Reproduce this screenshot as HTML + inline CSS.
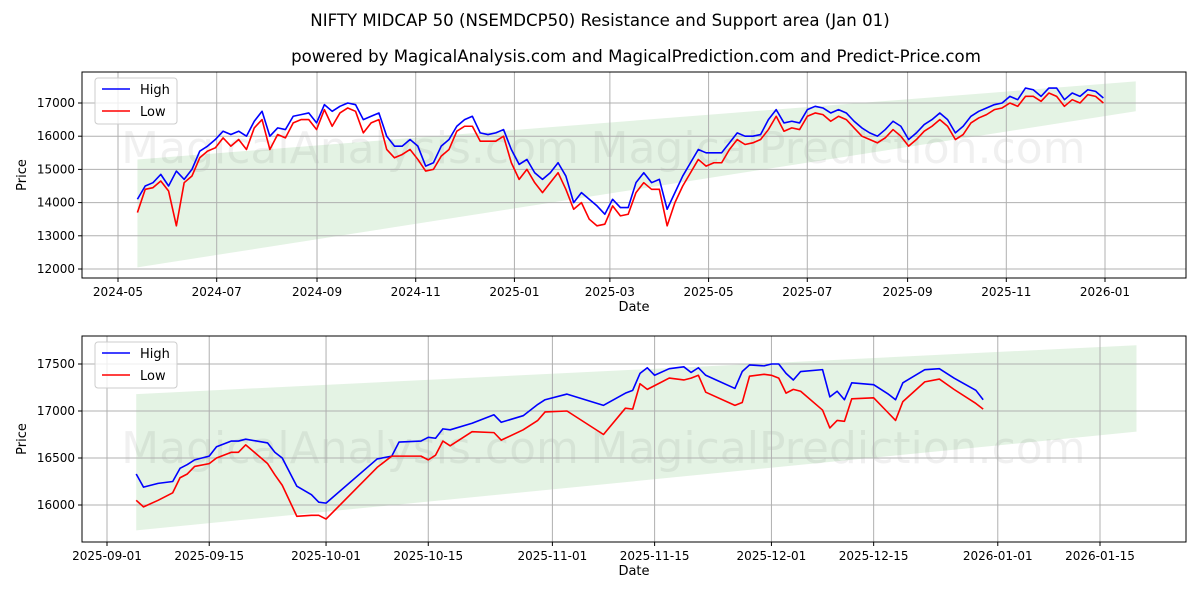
<!DOCTYPE html>
<html><head><meta charset="utf-8">
<style>
body{margin:0;background:#fff;font-family:"Liberation Sans","DejaVu Sans",sans-serif;}
svg text{font-family:"DejaVu Sans","Liberation Sans",sans-serif;}
</style></head>
<body>
<svg id="chart" width="1200" height="600" xmlns="http://www.w3.org/2000/svg">
<rect width="1200" height="600" fill="#fff"/>
<text x="600" y="26" text-anchor="middle" font-size="16.6">NIFTY MIDCAP 50 (NSEMDCP50) Resistance and Support area (Jan 01)</text>
<text x="636" y="62" text-anchor="middle" font-size="16.6">powered by MagicalAnalysis.com and MagicalPrediction.com and Predict-Price.com</text>
<g id="top"></g>
<g id="bot"></g>
</svg>
<script>
// ---- top chart data ----
const topStart = "2024-05-13";
const topEnd = "2025-12-31";
const topHigh = [14100,14500,14600,14850,14500,14950,14700,15000,15550,15700,
15900,16150,16050,16150,16000,16450,16750,16000,16250,16200,
16600,16650,16700,16400,16950,16750,16900,17000,16950,16500,
16600,16700,16000,15700,15700,15900,15700,15100,15200,15700,
15900,16300,16500,16600,16100,16050,16100,16200,15600,15150,
15300,14900,14700,14900,15200,14800,14000,14300,14100,13900,
13650,14100,13850,13850,14600,14900,14600,14700,13800,14300,
14800,15200,15600,15500,15500,15500,15800,16100,16000,16000,
16050,16500,16800,16400,16450,16400,16800,16900,16850,16700,
16800,16700,16450,16250,16100,16000,16200,16450,16300,15900,
16100,16350,16500,16700,16500,16100,16300,16600,16750,16850,
16950,17000,17200,17100,17450,17400,17200,17450,17450,17100,
17300,17200,17400,17350,17150];
const topLow = [13700,14400,14450,14650,14350,13300,14600,14800,15350,15550,
15650,15950,15700,15900,15600,16250,16500,15600,16050,15950,
16400,16500,16500,16200,16800,16300,16700,16850,16750,16100,
16400,16500,15600,15350,15450,15600,15300,14950,15000,15400,
15600,16150,16300,16300,15850,15850,15850,16000,15200,14700,
15000,14600,14300,14600,14900,14400,13800,14000,13500,13300,
13350,13900,13600,13650,14300,14600,14400,14400,13300,14000,
14500,14900,15300,15100,15200,15200,15600,15900,15750,15800,
15900,16200,16600,16150,16250,16200,16600,16700,16650,16450,
16600,16500,16250,16000,15900,15800,15950,16200,16000,15700,
15900,16150,16300,16500,16300,15900,16050,16400,16550,16650,
16800,16850,17000,16900,17200,17200,17050,17300,17200,16900,
17100,17000,17250,17200,17000];
const topBandDates = ["2024-05-13","2026-01-20"];
const topBandUpper = [15300,17650];
const topBandLower = [12050,16750];
const topYTicks = [12000,13000,14000,15000,16000,17000];
const topXTicks = ["2024-05","2024-07","2024-09","2024-11","2025-01","2025-03","2025-05","2025-07","2025-09","2025-11","2026-01"];

// ---- bottom chart data ----
const botDates = ["2025-09-05","2025-09-06","2025-09-08","2025-09-10","2025-09-11","2025-09-12","2025-09-13","2025-09-15","2025-09-16","2025-09-18",
"2025-09-19","2025-09-20","2025-09-23","2025-09-24","2025-09-25","2025-09-27","2025-09-29","2025-09-30","2025-10-01","2025-10-08",
"2025-10-10","2025-10-11","2025-10-14","2025-10-15","2025-10-16","2025-10-17","2025-10-18","2025-10-21","2025-10-24","2025-10-25",
"2025-10-28","2025-10-30","2025-10-31","2025-11-03","2025-11-08","2025-11-11","2025-11-12","2025-11-13","2025-11-14","2025-11-15",
"2025-11-17","2025-11-19","2025-11-20","2025-11-21","2025-11-22","2025-11-26","2025-11-27","2025-11-28","2025-11-30","2025-12-01",
"2025-12-02","2025-12-03","2025-12-04","2025-12-05","2025-12-08","2025-12-09","2025-12-10","2025-12-11","2025-12-12","2025-12-15",
"2025-12-17","2025-12-18","2025-12-19","2025-12-22","2025-12-24","2025-12-26","2025-12-29","2025-12-30"];
const botHigh = [16330,16190,16230,16250,16390,16430,16480,16520,16620,16680,
16680,16700,16660,16560,16500,16200,16110,16030,16020,16490,
16520,16670,16680,16720,16710,16810,16800,16870,16960,16880,
16950,17070,17120,17180,17060,17190,17220,17400,17460,17380,
17450,17470,17410,17460,17380,17240,17420,17490,17480,17500,
17500,17400,17330,17420,17440,17150,17210,17120,17300,17280,
17180,17120,17300,17440,17450,17350,17220,17120];
const botLow = [16050,15980,16050,16130,16290,16330,16410,16440,16500,16560,
16560,16640,16440,16320,16210,15880,15890,15890,15850,16400,
16520,16520,16520,16480,16530,16680,16630,16780,16770,16690,
16800,16900,16990,17000,16750,17030,17020,17290,17230,17270,
17350,17330,17350,17380,17200,17060,17090,17370,17390,17380,
17350,17190,17230,17210,17010,16820,16900,16890,17130,17140,
16980,16900,17100,17310,17340,17230,17080,17020];
const botBandDates = ["2025-09-05","2026-01-20"];
const botBandUpper = [17180,17700];
const botBandLower = [15730,16780];
const botYTicks = [16000,16500,17000,17500];
const botXTicks = ["2025-09-01","2025-09-15","2025-10-01","2025-10-15","2025-11-01","2025-11-15","2025-12-01","2025-12-15","2026-01-01","2026-01-15"];

const NS="http://www.w3.org/2000/svg";
function mk(parent,tag,attrs,txt){const e=document.createElementNS(NS,tag);for(const k in attrs)e.setAttribute(k,attrs[k]);if(txt!==undefined)e.textContent=txt;parent.appendChild(e);return e;}
function day(s){const p=s.split("-").map(Number);return Date.UTC(p[0],p[1]-1,p[2]||1)/86400000;}

function drawPanel(g,cfg){
  const L=82,R=1186,T=cfg.top,B=cfg.bottom;
  const xs=d=>cfg.x0px+(day(d)-day(cfg.x0))*cfg.pxPerDay;
  const xd=n=>cfg.x0px+(n-day(cfg.x0))*cfg.pxPerDay;
  const ys=v=>cfg.yRefPx+(cfg.yRef-v)*cfg.pxPerUnit;
  const band=mk(g,"polygon",{points:[
    [xs(cfg.bandDates[0]),ys(cfg.bandUpper[0])],[xs(cfg.bandDates[1]),ys(cfg.bandUpper[1])],
    [xs(cfg.bandDates[1]),ys(cfg.bandLower[1])],[xs(cfg.bandDates[0]),ys(cfg.bandLower[0])]].map(p=>p.join(",")).join(" "),
    fill:"#2ca02c","fill-opacity":"0.13"});
  
  
  const w1=mk(g,"text",{x:cfg.wm1x,y:cfg.wmy,"font-size":"44",fill:"#000","fill-opacity":"0.06","text-anchor":"middle"},"MagicalAnalysis.com");
  
  
  const w2=mk(g,"text",{x:cfg.wm2x,y:cfg.wmy,"font-size":"44",fill:"#000","fill-opacity":"0.06","text-anchor":"middle"},"MagicalPrediction.com");
  
  
  cfg.xTicks.forEach(t=>{const x=xs(t);
    const gl=mk(g,"line",{x1:x,x2:x,y1:T,y2:B,stroke:"#b0b0b0","stroke-width":"1"});
    
    
    mk(g,"line",{x1:x,x2:x,y1:B,y2:B+4,stroke:"#000"});
    const tl=mk(g,"text",{x:x,y:B+18,"font-size":"12","text-anchor":"middle"},t);
    
    
  });
  cfg.yTicks.forEach(v=>{const y=ys(v);
    const gl=mk(g,"line",{x1:L,x2:R,y1:y,y2:y,stroke:"#b0b0b0","stroke-width":"1"});
    
    
    mk(g,"line",{x1:L-4,x2:L,y1:y,y2:y,stroke:"#000"});
    const tl=mk(g,"text",{x:L-7,y:y+4,"font-size":"12","text-anchor":"end"},String(v));
    
    
  });
  const n=cfg.high.length;
  const xi=i=>cfg.dates?xs(cfg.dates[i]):xd(day(cfg.start)+(day(cfg.end)-day(cfg.start))*i/(n-1));
  const hp=mk(g,"polyline",{points:cfg.high.map((v,i)=>xi(i)+","+ys(v)).join(" "),fill:"none",stroke:"#0000ff","stroke-width":"1.6","stroke-linejoin":"round"});
  
  
  const lp=mk(g,"polyline",{points:cfg.low.map((v,i)=>xi(i)+","+ys(v)).join(" "),fill:"none",stroke:"#ff0000","stroke-width":"1.6","stroke-linejoin":"round"});
  
  
  const fr=mk(g,"rect",{x:L,y:T,width:R-L,height:B-T,fill:"none",stroke:"#000","stroke-width":"1"});
  
  
  const xt=mk(g,"text",{x:(L+R)/2,y:B+33,"font-size":"13","text-anchor":"middle"},"Date");
  
  
  const yt=mk(g,"text",{x:26,y:(T+B)/2,"font-size":"13","text-anchor":"middle",transform:"rotate(-90 26 "+((T+B)/2)+")"},"Price");
  
  
  const lg=mk(g,"g",{});
  
  
  mk(lg,"rect",{x:L+13,y:T+6,width:82,height:46,rx:3,fill:"#fff","fill-opacity":"0.8",stroke:"#ccc"});
  mk(lg,"line",{x1:L+20,x2:L+48,y1:T+17,y2:T+17,stroke:"#0000ff","stroke-width":"1.6"});
  const e1=mk(lg,"text",{x:L+58,y:T+22,"font-size":"13"},"High");
  
  
  mk(lg,"line",{x1:L+20,x2:L+48,y1:T+39,y2:T+39,stroke:"#ff0000","stroke-width":"1.6"});
  const e2=mk(lg,"text",{x:L+58,y:T+44,"font-size":"13"},"Low");
  
  
}
drawPanel(document.getElementById("top"),{top:72,bottom:278,x0:"2024-05-01",x0px:118,pxPerDay:987/610,
  yRef:17000,yRefPx:103,pxPerUnit:166/5000,bandDates:topBandDates,bandUpper:topBandUpper,bandLower:topBandLower,
  xTicks:topXTicks,yTicks:topYTicks,high:topHigh,low:topLow,start:topStart,end:topEnd,wm1x:350,wm2x:838,wmy:163});
drawPanel(document.getElementById("bot"),{top:336,bottom:542,x0:"2025-09-01",x0px:107,pxPerDay:993/136,
  yRef:17500,yRefPx:364,pxPerUnit:141/1500,bandDates:botBandDates,bandUpper:botBandUpper,bandLower:botBandLower,
  xTicks:botXTicks,yTicks:botYTicks,high:botHigh,low:botLow,dates:botDates,wm1x:350,wm2x:838,wmy:463});
</script>
</body></html>
